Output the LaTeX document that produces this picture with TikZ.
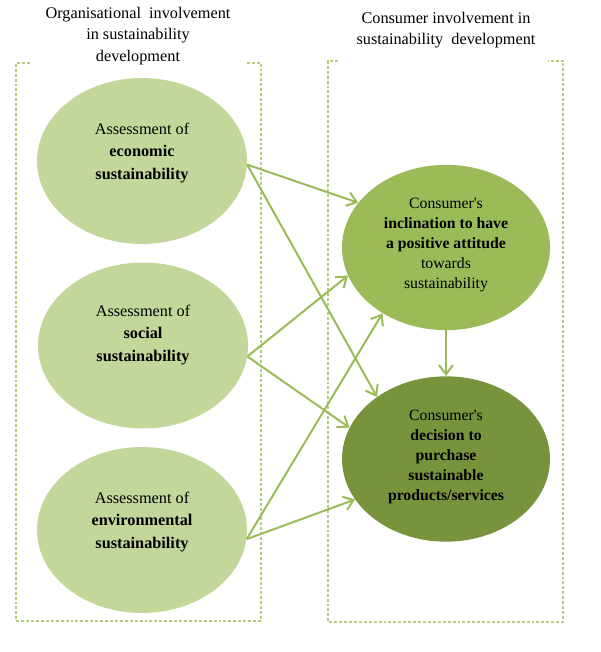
\documentclass[tikz,border=0pt]{standalone}
\usepackage{fontspec}
\setmainfont{Liberation Serif}[Ligatures=TeXOff]
\usetikzlibrary{arrows.meta,shapes.geometric}
\definecolor{lightg}{HTML}{C4D79B}
\definecolor{midg}{HTML}{9BBB59}
\definecolor{darkg}{HTML}{77933C}
\definecolor{dashg}{HTML}{B3CC82}
\begin{document}
\begin{tikzpicture}[x=0.75pt,y=-0.75pt,
  boxline/.style={draw=dashg,line width=0.9pt,dash pattern=on 2.2pt off 1.5pt},
  leftell/.style={ellipse,fill=lightg,draw=none,inner sep=0pt,minimum width=157.5pt,minimum height=124.5pt},
  rightell/.style={ellipse,draw=none,inner sep=0pt,minimum width=156pt,minimum height=124pt},
  titletext/.style={align=center,font=\fontsize{12.2}{16}\selectfont,inner sep=0pt},
  elltext/.style={align=center,font=\fontsize{12.2}{16.8}\selectfont,inner sep=0pt},
  elltextr/.style={align=center,font=\fontsize{11.8}{15}\selectfont,inner sep=0pt},
  conn/.style={draw=midg,line width=1.5pt,-{Straight Barb[length=7pt,width=10.5pt]}}]
\useasboundingbox (0,0) rectangle (600,652);
% dashed boxes
\draw[boxline] (30,63) -- (16,63) -- (16,621) -- (261,621) -- (261,63) -- (247,63);
\draw[boxline] (338,61) -- (328,61) -- (328,622) -- (563,622) -- (563,61) -- (548,61);
% titles
\node[titletext] (tl) at (138,36) {Organisational\ \ involvement\\in sustainability\\development};
\node[titletext] (tr) at (446,30) {Consumer involvement in\\sustainability\ \ development};
% ellipses
\node[leftell] (e1) at (142,161) {};
\node[leftell] (e2) at (143,345.5) {};
\node[leftell] (e3) at (142,530) {};
\node[rightell,fill=midg] (c1) at (446,247.5) {};
\node[rightell,fill=darkg] (c2) at (446,459) {};
% texts
\node[elltext] (te1) at (142,153) {Assessment of\\\textbf{economic}\\\textbf{sustainability}};
\node[elltext] (te2) at (143,335) {Assessment of\\\textbf{social}\\\textbf{sustainability}};
\node[elltext] (te3) at (142,522) {Assessment of\\\textbf{environmental}\\\textbf{sustainability}};
\node[elltextr] (tc1) at (446,245) {Consumer's\\\textbf{inclination to have}\\\textbf{a positive attitude}\\towards\\sustainability};
\node[elltextr] (tc2) at (446,457) {Consumer's\\\textbf{decision to}\\\textbf{purchase}\\\textbf{sustainable}\\\textbf{products/services}};
% connectors
\draw[conn] (e1.-2) -- (c1.153);
\draw[conn] (e1.-2) -- (c2.138);
\draw[conn] (e2.-6) -- (c1.196);
\draw[conn] (e2.-6) -- (c2.162);
\draw[conn] (e3.-5) -- (c1.226);
\draw[conn] (e3.-5) -- (c2.204);
\draw[conn] (c1.south) -- (c2.north);
\end{tikzpicture}
\end{document}
